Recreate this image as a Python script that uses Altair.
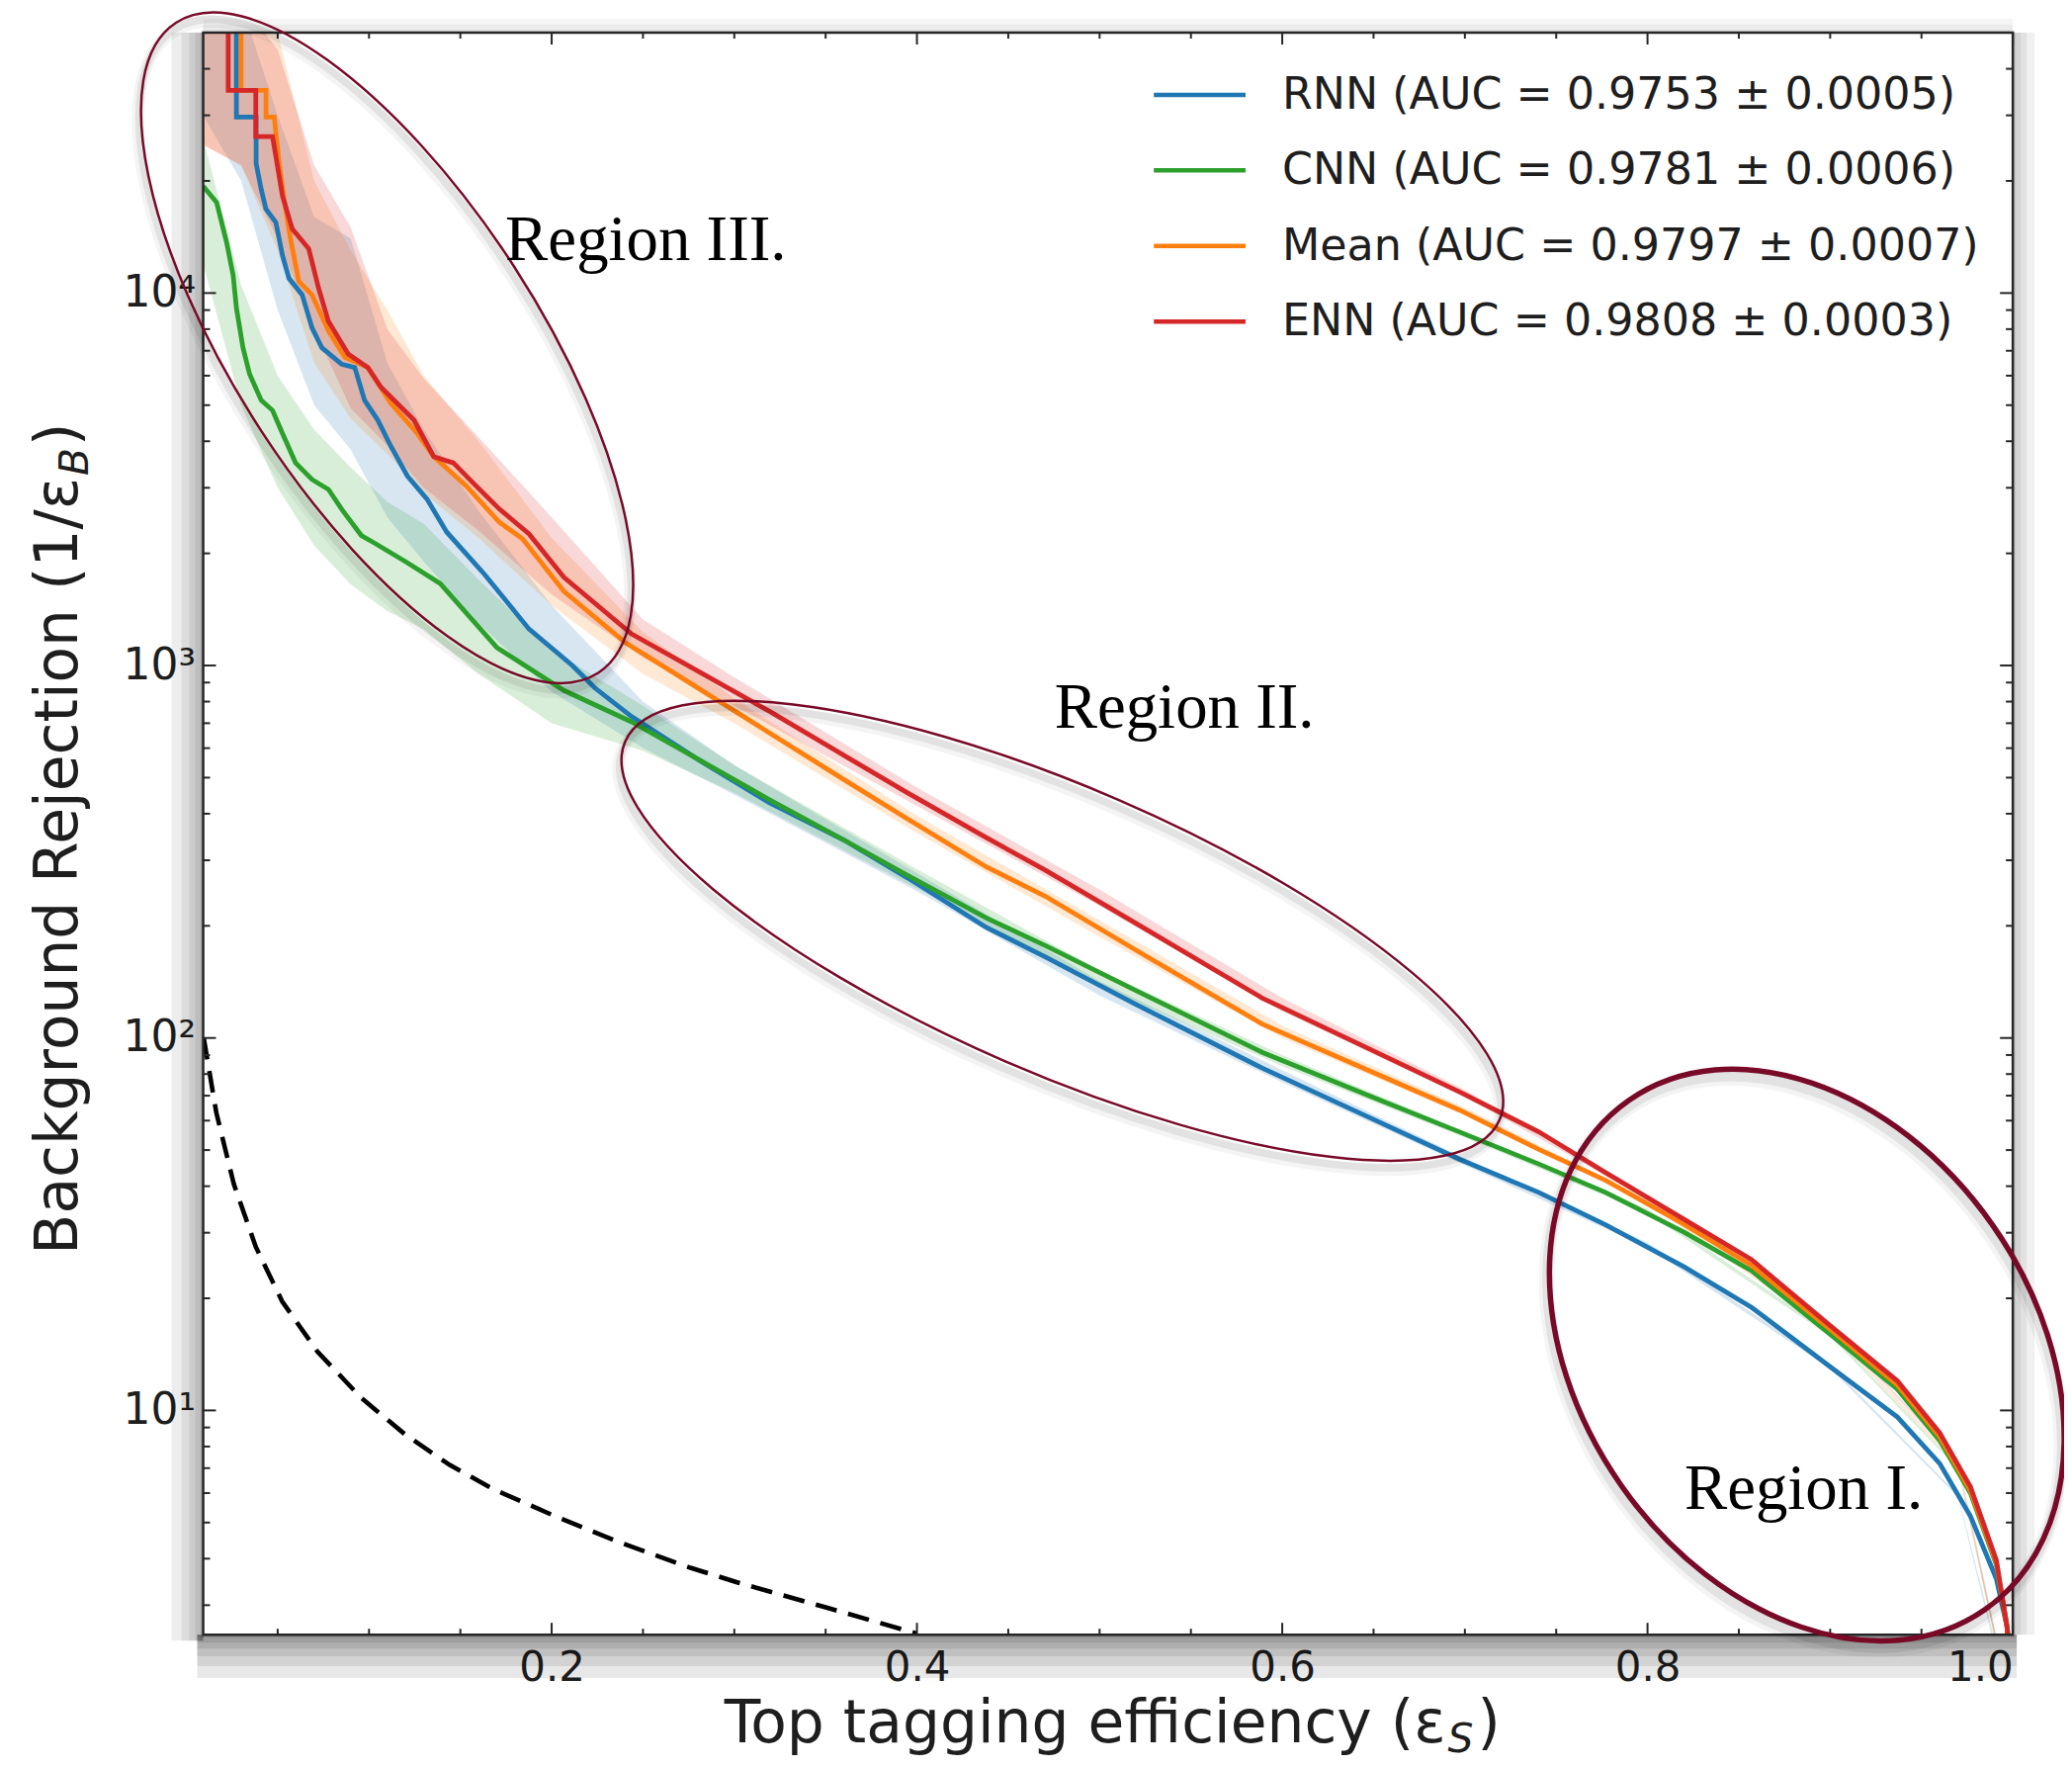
import altair as alt
import pandas as pd

# ---------------- data ----------------
models = ["RNN", "CNN", "Mean", "ENN"]
auc_vals = ["0.9753", "0.9781", "0.9797", "0.9808"]
auc_errs = ["0.0005", "0.0006", "0.0007", "0.0003"]
colors = ["#1f77b4", "#2ca02c", "#ff7f0e", "#d62728"]

rnn_x = [0.0274, 0.0274, 0.0382, 0.0382, 0.041, 0.0436, 0.049, 0.0526, 0.0562, 0.0634, 0.0688, 0.0742,
         0.085, 0.0922, 0.0976, 0.1048, 0.112, 0.121, 0.1318, 0.1426, 0.1633, 0.1876, 0.2113, 0.2237,
         0.2437, 0.28, 0.3193, 0.36, 0.3949, 0.438, 0.4704, 0.52, 0.589, 0.65, 0.6972, 0.7404, 0.777,
         0.82, 0.857, 0.90, 0.9368, 0.96, 0.9768, 0.991, 0.997, 1.0]
rnn_y = [60000, 29700, 29700, 22300, 18970, 16800, 15480, 12630, 10950, 9890, 8060, 7130,
         6440, 6310, 5150, 4560, 3874, 3226, 2795, 2280, 1755, 1253, 1000, 870,
         730, 560, 428, 340, 269, 198, 165, 123, 83, 60.4, 47.2, 38.5, 31.5,
         24.3, 18.9, 13.1, 9.6, 7.2, 5.2, 3.53, 2.6, 1.5]

cnn_x = [0.0092, 0.0166, 0.022, 0.0256, 0.0274, 0.031, 0.0346, 0.041, 0.0472, 0.0526, 0.0598, 0.0688,
         0.0778, 0.085, 0.0958, 0.1028, 0.12, 0.139, 0.170, 0.2067, 0.2437, 0.28, 0.3193, 0.36, 0.3949,
         0.438, 0.4704, 0.52, 0.589, 0.65, 0.6972, 0.7404, 0.777, 0.82, 0.857, 0.90, 0.9368, 0.96,
         0.9768, 0.991, 0.997, 1.0]
cnn_y = [19360, 17500, 13700, 11170, 9120, 7130, 6060, 5150, 4840, 4200, 3500, 3157,
         2970, 2630, 2234, 2135, 1900, 1660, 1117, 857, 706, 561, 436, 340, 273,
         210, 177, 134, 91.5, 69.2, 55.9, 45.9, 38.5, 30.1, 23.7, 16.0, 11.4, 8.3,
         6.0, 3.85, 2.6, 1.5]

mean_x = [0.030, 0.030, 0.0436, 0.0436, 0.0481, 0.0508, 0.0535, 0.057, 0.0616, 0.0688, 0.0778, 0.0868,
          0.0994, 0.112, 0.1264, 0.1354, 0.1534, 0.1714, 0.184, 0.2067, 0.2405, 0.28, 0.3193, 0.36,
          0.3949, 0.438, 0.4704, 0.52, 0.589, 0.65, 0.6972, 0.7404, 0.777, 0.82, 0.857, 0.90, 0.9368,
          0.96, 0.9768, 0.991, 0.997, 1.0]
mean_y = [60000, 35000, 35000, 29700, 29700, 22300, 17870, 14000, 10740, 9890, 7910, 6720,
          6310, 5050, 4200, 3640, 3030, 2423, 2190, 1581, 1151, 871, 659, 494,
          387, 288, 240, 172, 109, 80.7, 64, 50.2, 41.5, 31.6, 24.5, 16.5, 11.7,
          8.5, 6.1, 3.9, 2.6, 1.5]

enn_x = [0.0229, 0.0229, 0.038, 0.038, 0.0472, 0.0526, 0.058, 0.067, 0.0724, 0.0778, 0.0886, 0.0994,
         0.1066, 0.1246, 0.1354, 0.1462, 0.157, 0.1714, 0.1876, 0.2067, 0.2437, 0.28, 0.3193, 0.36,
         0.3949, 0.438, 0.4704, 0.52, 0.589, 0.65, 0.6972, 0.7404, 0.777, 0.82, 0.857, 0.90, 0.9368,
         0.96, 0.9768, 0.991, 0.997, 1.0]
enn_y = [60000, 35000, 35000, 26300, 26300, 18240, 14860, 13150, 10300, 8390, 6860, 6310,
         5580, 4560, 3640, 3500, 3093, 2630, 2255, 1726, 1216, 966, 753, 574,
         455, 345, 282, 203, 128, 92.3, 71.6, 56, 43.5, 32.6, 25.4, 16.9, 12.0,
         8.7, 6.24, 3.96, 2.6, 1.5]

band_x = [0.0092, 0.03, 0.05, 0.07, 0.09, 0.11, 0.13, 0.16, 0.20, 0.25, 0.30, 0.40, 0.50, 0.60,
          0.70, 0.80, 0.90, 0.97, 1.0]
rnn_lo = [30000, 20000, 9000, 5000, 3800, 2500, 1900, 1300, 850, 600, 450, 248, 130, 76, 45.5, 27.4, 12.95, 5.85, 1.45]
rnn_hi = [60000, 60000, 30000, 16000, 14000, 6500, 4300, 2600, 1450, 800, 540, 277, 142, 82, 47.5, 28.2, 13.25, 5.95, 1.55]
cnn_lo = [12000, 5000, 3000, 2100, 1650, 1400, 1250, 950, 700, 590, 455, 252, 138, 84, 54, 33.8, 15.8, 6.95, 1.45]
cnn_hi = [26000, 10500, 6000, 4300, 3400, 2750, 2400, 1700, 1100, 780, 540, 284, 152, 90, 56, 34.8, 16.2, 7.05, 1.55]
mean_lo = [25000, 22000, 13000, 6500, 4600, 3700, 2900, 2200, 1450, 950, 700, 355, 187, 100, 62, 35.9, 16.3, 7.05, 1.45]
mean_hi = [60000, 60000, 50000, 20000, 13000, 9000, 6000, 4000, 2200, 1230, 815, 395, 207, 108, 65, 36.7, 16.7, 7.2, 1.55]
enn_lo = [25000, 22000, 14000, 8000, 4900, 3900, 3000, 2300, 1550, 1050, 780, 420, 226, 118, 69.5, 36.9, 16.8, 7.25, 1.45]
enn_hi = [60000, 60000, 45000, 22000, 15000, 8000, 5900, 4100, 2500, 1330, 930, 470, 250, 128, 72.5, 37.7, 17.0, 7.4, 1.55]

rand_x = [0.0095, 0.0164, 0.026, 0.038, 0.0525, 0.0717, 0.0958, 0.12, 0.144, 0.168, 0.2, 0.2357,
          0.276, 0.302, 0.35, 0.3997]
rand_y = [100, 63, 40.5, 27.5, 19.6, 14.4, 10.8, 8.6, 7.15, 6.15, 5.25, 4.45, 3.78, 3.45, 2.96, 2.52]

region_text = ["Region III.", "Region II.", "Region I."]
region_x = [0.1746, 0.4753, 0.8202]
region_y = [12280, 681, 5.43]

ellipse_x = [0.1099, 0.4796, 0.8872]
ellipse_y = [7127, 194, 14.08]

x_major = [0.2, 0.4, 0.6, 0.8, 1.0]
x_minor = [0.05, 0.1, 0.15, 0.25, 0.3, 0.35, 0.45, 0.5, 0.55, 0.65, 0.7, 0.75, 0.85, 0.9, 0.95]
y_major = [10, 100, 1000, 10000]
y_minor = [3, 4, 5, 6, 7, 8, 9, 20, 30, 40, 50, 60, 70, 80, 90,
           200, 300, 400, 500, 600, 700, 800, 900,
           2000, 3000, 4000, 5000, 6000, 7000, 8000, 9000, 20000, 30000, 40000]

x_title_main = "Top tagging efficiency (ε"
x_title_sub = "S"
y_title_main = "Background Rejection (1/ε"
y_title_sub = "B"

# ---------------- tables ----------------
labels = [f"{m} (AUC = {a} ± {e})" for m, a, e in zip(models, auc_vals, auc_errs)]
series_x = [rnn_x, cnn_x, mean_x, enn_x]
series_y = [rnn_y, cnn_y, mean_y, enn_y]
series_lo = [rnn_lo, cnn_lo, mean_lo, enn_lo]
series_hi = [rnn_hi, cnn_hi, mean_hi, enn_hi]

rows = []
for lab, xs, ys in zip(labels, series_x, series_y):
    for i, (xv, yv) in enumerate(zip(xs, ys)):
        rows.append({"label": lab, "x": xv, "y": yv, "i": i})
lines_df = pd.DataFrame(rows)

rand_df = pd.DataFrame({"x": rand_x, "y": rand_y})
region_df = pd.DataFrame({"t": region_text, "x": region_x, "y": region_y})
one = pd.DataFrame({"a": [0]})

# ---------------- styling ----------------
W, H = 1835, 1624
FONT = "DejaVu Sans"
INK = "#1e1e1e"
xs_ = alt.Scale(domain=[0.0092, 1.0], nice=False, zero=False)
ys_ = alt.Scale(type="log", domain=[2.5, 50000], nice=False)
cs_ = alt.Scale(domain=labels, range=colors)

x_axis = alt.Axis(values=x_major, format=".1f", title=None, ticks=False, domain=False, grid=False,
                  labelFontSize=42, labelFont=FONT, labelColor=INK, labelPadding=13)
y_axis = alt.Axis(values=y_major, title=None, ticks=False, domain=False, grid=False,
                  labelExpr="'10' + ['⁰','¹','²','³','⁴'][round(log(datum.value)/LN10)]",
                  labelFontSize=44, labelFont=FONT, labelColor=INK, labelPadding=8)


def X(f):
    return alt.X(f, type="quantitative", scale=xs_, axis=x_axis)


def Y(f):
    return alt.Y(f, type="quantitative", scale=ys_, axis=y_axis)


def box(x0, x1, y0, y1, **kw):
    return (alt.Chart(one).mark_rect(**kw)
            .encode(x=alt.value(x0), x2=alt.value(x1), y=alt.value(y0), y2=alt.value(y1)))


layers = []

# soft shadow around the frame
for k in [3, 8, 14, 22, 32, 44]:
    layers.append(box(-6, W + 4, H, H + k, fill="#000", opacity=0.09))
for k in [3, 8, 14, 22, 32]:
    layers.append(box(-k, 0, 0, H + 6, fill="#000", opacity=0.07))
for k in [3, 8, 14, 22]:
    layers.append(box(W, W + k, 0, H, fill="#000", opacity=0.06))
for k in [3, 8, 14]:
    layers.append(box(0, W, -k, 0, fill="#000", opacity=0.04))

# bands (one layer per model, fixed colour)
for lab, col, lo, hi in zip(labels, colors, series_lo, series_hi):
    bdf = pd.DataFrame({"x": band_x, "lo": lo, "hi": hi})
    layers.append(alt.Chart(bdf).mark_area(fill=col, fillOpacity=0.18, clip=True)
                  .encode(x=X("x"), y=Y("lo"), y2=alt.Y2("hi")))

# random classifier
layers.append(alt.Chart(rand_df).mark_line(color="black", strokeDash=[22, 12], strokeWidth=4.6, clip=True)
              .encode(x=X("x"), y=Y("y")))

# ROC lines
layers.append(alt.Chart(lines_df).mark_line(strokeWidth=4.8, clip=True)
              .encode(x=X("x"), y=Y("y"), order=alt.Order("i:Q"),
                      stroke=alt.Stroke("label:N", scale=cs_, legend=None)))

# frame
layers.append(box(0, W, 0, H, fillOpacity=0, stroke="#262626", strokeWidth=2.5))

# ticks (inward, on all sides)
for vals, ln in [(x_major, 12), (x_minor, 6)]:
    d = pd.DataFrame({"v": vals})
    layers.append(alt.Chart(d).mark_rule(color="#262626", strokeWidth=2)
                  .encode(x=X("v"), y=alt.value(H), y2=alt.value(H - ln)))
    layers.append(alt.Chart(d).mark_rule(color="#262626", strokeWidth=2)
                  .encode(x=X("v"), y=alt.value(0), y2=alt.value(ln)))
for vals, ln in [(y_major, 13), (y_minor, 7)]:
    d = pd.DataFrame({"v": vals})
    layers.append(alt.Chart(d).mark_rule(color="#262626", strokeWidth=2)
                  .encode(y=Y("v"), x=alt.value(0), x2=alt.value(ln)))
    layers.append(alt.Chart(d).mark_rule(color="#262626", strokeWidth=2)
                  .encode(y=Y("v"), x=alt.value(W), x2=alt.value(W - ln)))

# legend (drawn by hand, no frame), layout: sample start/end, text start, first row, row step
LEG_X0, LEG_X1, LEG_TX, LEG_Y0, LEG_DY = 964, 1057, 1094, 63, 76.6
for i, (lab, col) in enumerate(zip(labels, colors)):
    yy = LEG_Y0 + LEG_DY * i
    layers.append(alt.Chart(one).mark_rule(color=col, strokeWidth=4.5)
                  .encode(x=alt.value(LEG_X0), x2=alt.value(LEG_X1), y=alt.value(yy)))
    layers.append(alt.Chart(pd.DataFrame({"t": [lab]})).mark_text(font=FONT, fontSize=44.5, align="left",
                                                                  baseline="middle", color=INK)
                  .encode(x=alt.value(LEG_TX), y=alt.value(yy + 1), text="t:N"))

# ellipses (annotation styles: semi-major px, axis ratio, rotation, stroke width)
ELL_STYLE = [(393, 0.389, 57, 2.5), (483, 0.299, 23.4, 2.5), (315, 0.730, 55, 5.5)]
K = 0.5523


def ell_path(r):
    kr = K * r
    return (f"M-1,0C-1,{-kr:.4f},{-K},{-r:.4f},0,{-r:.4f}C{K},{-r:.4f},1,{-kr:.4f},1,0"
            f"C1,{kr:.4f},{K},{r:.4f},0,{r:.4f}C{-K},{r:.4f},-1,{kr:.4f},-1,0Z")


for (ex, ey), (a, r, ang, sw) in zip(zip(ellipse_x, ellipse_y), ELL_STYLE):
    d = pd.DataFrame({"x": [ex], "y": [ey]})
    shp = ell_path(r)
    size = (2 * a) ** 2
    for w_add, op, dx, dy in [(10, 0.06, -3, 9), (5, 0.1, -2, 7)]:
        layers.append(alt.Chart(d).mark_point(shape=shp, size=size, angle=ang, filled=False, stroke="#000",
                                              strokeWidth=sw + w_add, strokeOpacity=op, xOffset=dx, yOffset=dy)
                      .encode(x=X("x"), y=Y("y")))
    layers.append(alt.Chart(d).mark_point(shape=shp, size=size, angle=ang, filled=False, stroke="#780a28",
                                          strokeWidth=sw, opacity=1)
                  .encode(x=X("x"), y=Y("y")))

# region labels
layers.append(alt.Chart(region_df).mark_text(font="Liberation Serif", fontSize=65, align="left",
                                             baseline="alphabetic", color="black")
              .encode(x=X("x"), y=Y("y"), text="t:N"))

# axis titles with subscripts
layers.append(alt.Chart(one).mark_text(text=x_title_main, font=FONT, fontSize=60, align="right",
                                       baseline="alphabetic", color=INK)
              .encode(x=alt.value(1260), y=alt.value(1733)))
layers.append(alt.Chart(one).mark_text(text=x_title_sub, font=FONT, fontSize=41, fontStyle="italic",
                                       align="left", baseline="alphabetic", color=INK)
              .encode(x=alt.value(1262), y=alt.value(1743)))
layers.append(alt.Chart(one).mark_text(text=")", font=FONT, fontSize=60, align="left",
                                       baseline="alphabetic", color=INK)
              .encode(x=alt.value(1292), y=alt.value(1733)))

layers.append(alt.Chart(one).mark_text(text=y_title_main, font=FONT, fontSize=60, angle=270, align="right",
                                       baseline="alphabetic", color=INK)
              .encode(x=alt.value(-128), y=alt.value(451)))
layers.append(alt.Chart(one).mark_text(text=y_title_sub, font=FONT, fontSize=41, angle=270,
                                       fontStyle="italic", align="left", baseline="alphabetic", color=INK)
              .encode(x=alt.value(-117), y=alt.value(449)))
layers.append(alt.Chart(one).mark_text(text=")", font=FONT, fontSize=60, angle=270, align="left",
                                       baseline="alphabetic", color=INK)
              .encode(x=alt.value(-128), y=alt.value(419)))

chart = (alt.layer(*layers)
         .properties(width=W, height=H,
                     padding={"left": 198, "top": 23, "right": 52, "bottom": 126},
                     autosize=alt.AutoSizeParams(type="none"))
         .configure_view(stroke=None)
         .configure(background="white"))

chart.save("out.html", embed_options={"renderer": "svg", "actions": False})
